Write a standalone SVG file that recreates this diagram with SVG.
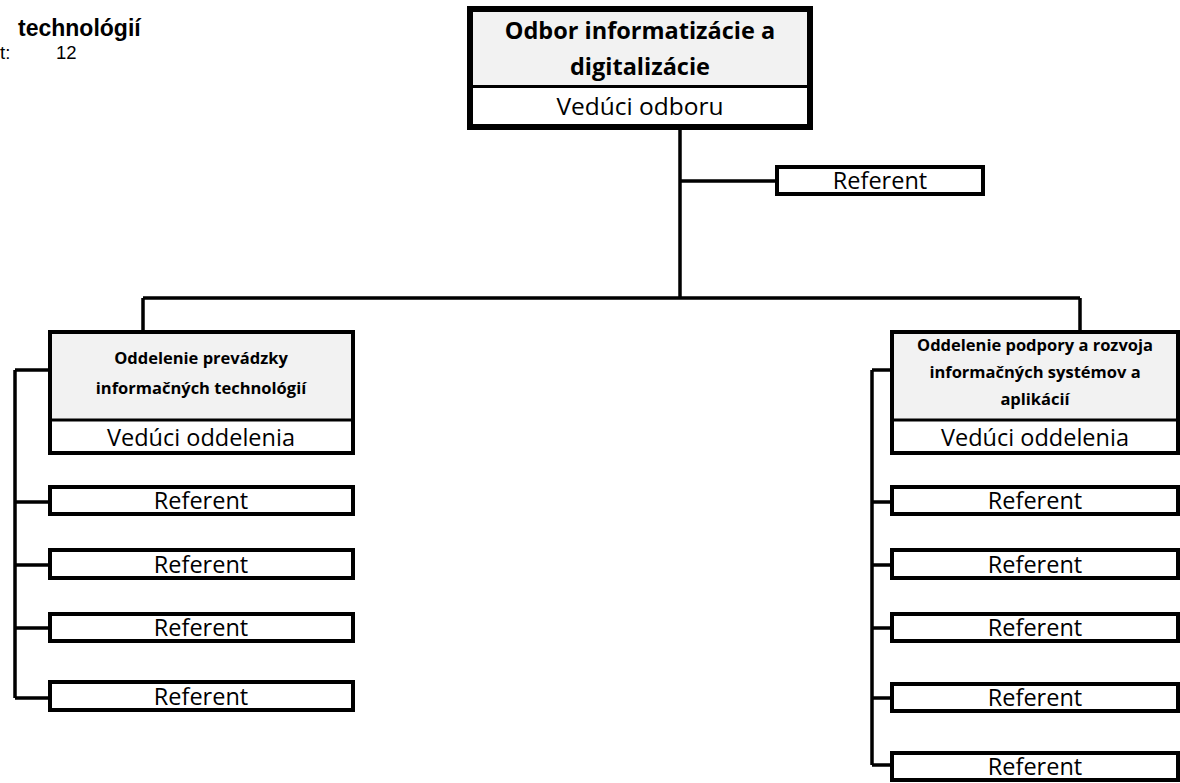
<svg xmlns="http://www.w3.org/2000/svg" width="1180" height="783" viewBox="0 0 1180 783">
<style>
.bg{fill:#ffffff}
.box{fill:#ffffff;stroke:#000;stroke-width:4}
.hdr{fill:#f2f2f2;stroke:none}
.div{stroke:#000;stroke-width:3}
.con{stroke:#000;stroke-width:3.5;fill:none}
.t{font-family:"Open Sans","Liberation Sans",sans-serif;fill:#000;text-anchor:middle}
.r{font-size:23.5px}
.b{font-weight:bold}
.h{font-family:"Liberation Sans",Arial,sans-serif;fill:#000}
</style>
<rect class="bg" x="0" y="0" width="1180" height="783"/>
<g id="header-text">
<text class="h" x="18" y="36" font-size="23" font-weight="bold">technológií</text>
<text class="h" x="0" y="59" font-size="18.5">t:</text>
<text class="h" x="56" y="59" font-size="18.5">12</text>
</g>
<g id="connectors">
<path class="con" d="M680 128V298M680 181H777M143 298H1080M143 298V332M1080 298V332"/>
<path class="con" d="M15 370V698M15 370H50M15 502H50M15 565H50M15 628H50M15 698H50"/>
<path class="con" d="M872 370V765M872 370H892M872 502H892M872 565H892M872 628H892M872 698H892M872 765H892"/>
</g>
<g id="odbor">
<rect x="470" y="9" width="340" height="118" fill="#fff" stroke="#000" stroke-width="6"/>
<rect class="hdr" x="473" y="12" width="334" height="73"/>
<line class="div" x1="473" y1="86.5" x2="807" y2="86.5"/>
<text class="t b" x="640" y="39" font-size="23.5">Odbor informatizácie a</text>
<text class="t b" x="640" y="75" font-size="23.5">digitalizácie</text>
<text class="t" x="640" y="115" font-size="24.5">Vedúci odboru</text>
</g>
<g id="referent-top">
<rect class="box" x="777" y="167" width="206" height="27"/>
<text class="t r" x="880" y="189">Referent</text>
</g>
<g id="oddelenie-prevadzky">
<rect class="box" x="50" y="332" width="303" height="121"/>
<rect class="hdr" x="52" y="334" width="299" height="85"/>
<line class="div" x1="52" y1="420" x2="351" y2="420"/>
<text class="t b" x="201" y="364" font-size="16.5">Oddelenie prevádzky</text>
<text class="t b" x="201" y="394" font-size="16.5">informačných technológií</text>
<text class="t r" x="201" y="446">Vedúci oddelenia</text>
</g>
<g id="ref-l1"><rect class="box" x="50" y="487" width="303" height="27"/><text class="t r" x="201" y="509">Referent</text></g>
<g id="ref-l2"><rect class="box" x="50" y="550" width="303" height="28"/><text class="t r" x="201" y="573">Referent</text></g>
<g id="ref-l3"><rect class="box" x="50" y="614" width="303" height="27"/><text class="t r" x="201" y="636">Referent</text></g>
<g id="ref-l4"><rect class="box" x="50" y="682" width="303" height="28"/><text class="t r" x="201" y="705">Referent</text></g>
<g id="oddelenie-podpory">
<rect class="box" x="892" y="332" width="286" height="121"/>
<rect class="hdr" x="894" y="334" width="282" height="85"/>
<line class="div" x1="894" y1="420" x2="1176" y2="420"/>
<text class="t b" x="1035" y="351" font-size="16.5">Oddelenie podpory a rozvoja</text>
<text class="t b" x="1035" y="378" font-size="16.5">informačných systémov a</text>
<text class="t b" x="1035" y="405" font-size="16.5">aplikácií</text>
<text class="t r" x="1035" y="446">Vedúci oddelenia</text>
</g>
<g id="ref-r1"><rect class="box" x="892" y="487" width="286" height="27"/><text class="t r" x="1035" y="509">Referent</text></g>
<g id="ref-r2"><rect class="box" x="892" y="550" width="286" height="28"/><text class="t r" x="1035" y="573">Referent</text></g>
<g id="ref-r3"><rect class="box" x="892" y="614" width="286" height="27"/><text class="t r" x="1035" y="636">Referent</text></g>
<g id="ref-r4"><rect class="box" x="892" y="684" width="286" height="27"/><text class="t r" x="1035" y="706">Referent</text></g>
<g id="ref-r5"><rect class="box" x="892" y="753" width="286" height="27"/><text class="t r" x="1035" y="775">Referent</text></g>
</svg>
